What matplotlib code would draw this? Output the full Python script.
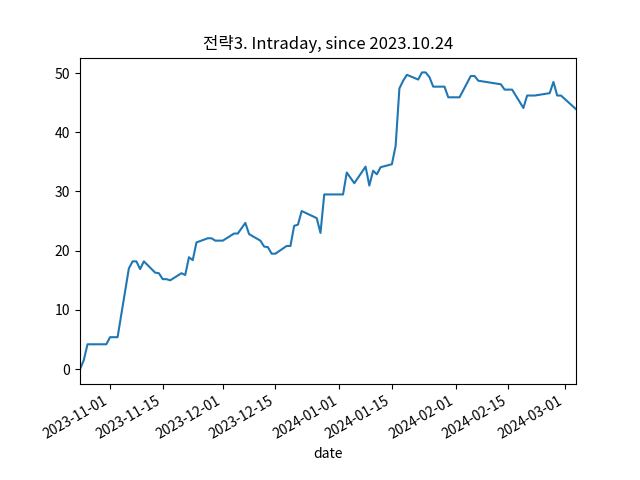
import matplotlib
matplotlib.use("Agg")
import matplotlib.pyplot as plt
import pandas as pd

plt.rcParams['font.family'] = ['Noto Sans CJK KR', 'DejaVu Sans']

dates = [
    "2023-10-24", "2023-10-25", "2023-10-26", "2023-10-27", "2023-10-30", "2023-10-31",
    "2023-11-01", "2023-11-02", "2023-11-03", "2023-11-06", "2023-11-07", "2023-11-08",
    "2023-11-09", "2023-11-10", "2023-11-13", "2023-11-14", "2023-11-15", "2023-11-16",
    "2023-11-17", "2023-11-20", "2023-11-21", "2023-11-22", "2023-11-23", "2023-11-24",
    "2023-11-27", "2023-11-28", "2023-11-29", "2023-11-30", "2023-12-01", "2023-12-04",
    "2023-12-05", "2023-12-06", "2023-12-07", "2023-12-08", "2023-12-11", "2023-12-12",
    "2023-12-13", "2023-12-14", "2023-12-15", "2023-12-18", "2023-12-19", "2023-12-20",
    "2023-12-21", "2023-12-22", "2023-12-26", "2023-12-27", "2023-12-28", "2024-01-02",
    "2024-01-03", "2024-01-04", "2024-01-05", "2024-01-08", "2024-01-09", "2024-01-10",
    "2024-01-11", "2024-01-12", "2024-01-15", "2024-01-16", "2024-01-17", "2024-01-18",
    "2024-01-19", "2024-01-22", "2024-01-23", "2024-01-24", "2024-01-25", "2024-01-26",
    "2024-01-29", "2024-01-30", "2024-01-31", "2024-02-01", "2024-02-02", "2024-02-05",
    "2024-02-06", "2024-02-07", "2024-02-08", "2024-02-13", "2024-02-14", "2024-02-15",
    "2024-02-16", "2024-02-19", "2024-02-20", "2024-02-21", "2024-02-22", "2024-02-23",
    "2024-02-26", "2024-02-27", "2024-02-28", "2024-02-29", "2024-03-04",
]
returns = [
    0.0, 1.5, 4.2, 4.2, 4.2, 4.2,
    5.4, 5.4, 5.4, 17.0, 18.2, 18.2,
    16.9, 18.2, 16.3, 16.2, 15.2, 15.2,
    15.0, 16.2, 15.9, 18.9, 18.4, 21.4,
    22.1, 22.1, 21.7, 21.7, 21.7, 22.9,
    22.9, 23.8, 24.7, 22.8, 21.7, 20.7,
    20.6, 19.5, 19.5, 20.8, 20.8, 24.2,
    24.4, 26.7, 25.5, 23.0, 29.5, 29.5,
    33.2, 32.3, 31.4, 34.2, 31.0, 33.5,
    32.9, 34.1, 34.6, 37.7, 47.4, 48.7,
    49.7, 48.9, 50.1, 50.1, 49.3, 47.7,
    47.7, 45.9, 45.9, 45.9, 45.9, 49.5,
    49.5, 48.7, 48.6, 48.1, 47.2, 47.2,
    47.2, 44.1, 46.2, 46.2, 46.2, 46.3,
    46.6, 48.5, 46.2, 46.2, 43.9,
]

x = pd.to_datetime(dates)

fig, ax = plt.subplots(figsize=(6.4, 4.8), dpi=100)
ax.plot(x, returns, color='#1f77b4')
ax.set_xlim(x[0], x[-1])
ax.set_xlabel("date")
ax.set_title("전략3. Intraday, since 2023.10.24")
fig.autofmt_xdate()
fig.savefig("out.png")
